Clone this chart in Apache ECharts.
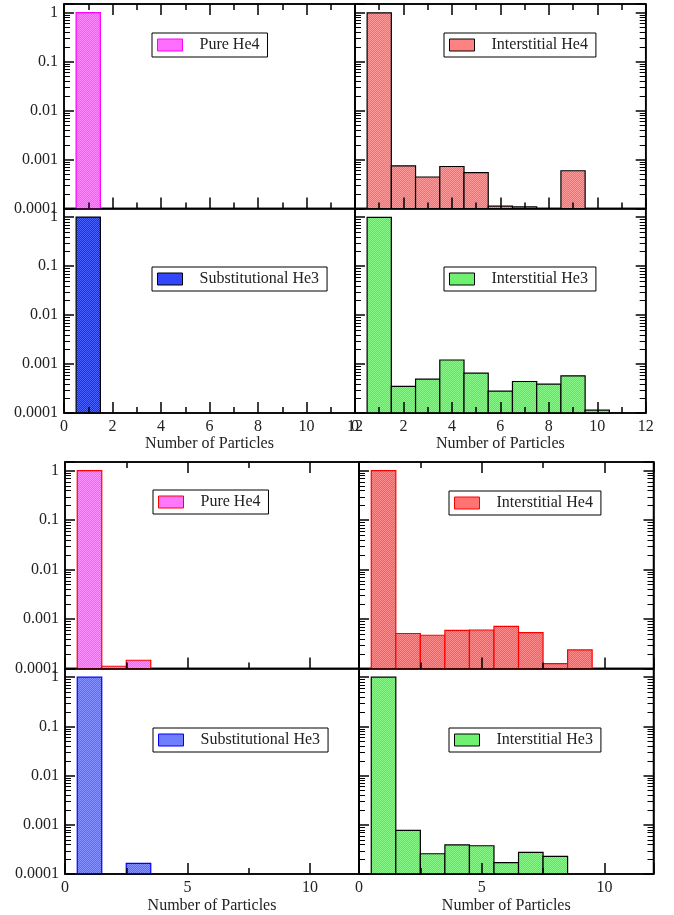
<!DOCTYPE html>
<html>
<head>
<meta charset="utf-8">
<script src="https://cdn.jsdelivr.net/npm/echarts@6/dist/echarts.min.js"></script>
<style>
  html, body { margin: 0; padding: 0; background: #fff; }
  #chart { width: 674px; height: 915px; }
</style>
</head>
<body>
<div id="chart"></div>
<script>
// cluster sizes (bar centres)
var particles = [1, 2, 3, 4, 5, 6, 7, 8, 9, 10, 11];

// upper block of panels
var pureHe4Top = [1.0];
var interHe4Top = [0.99, 7.4e-4, 4.4e-4, 7.2e-4, 5.4e-4, 1.12e-4, 1.08e-4, null, 5.9e-4];
var subHe3Top = [1.0];
var interHe3Top = [0.99, 3.5e-4, 4.9e-4, 1.21e-3, 6.5e-4, 2.8e-4, 4.4e-4, 3.9e-4, 5.75e-4, 1.14e-4];

// lower block of panels
var pureHe4Bot = [1.0, 1.11e-4, 1.47e-4];
var interHe4Bot = [1.0, 5.1e-4, 4.7e-4, 5.9e-4, 6.0e-4, 7.1e-4, 5.3e-4, 1.26e-4, 2.38e-4];
var subHe3Bot = [1.0, null, 1.64e-4];
var interHe3Bot = [1.0, 7.7e-4, 2.58e-4, 3.9e-4, 3.75e-4, 1.7e-4, 2.74e-4, 2.28e-4];

var YMIN = 1e-4, YMAX = 1.5, XMAX = 12;
var FONT = '"Liberation Serif", "DejaVu Serif", serif';
var INK = '#222';

// light stipple like the grace fill patterns
function dither(dark, light) {
  var c = document.createElement('canvas');
  c.width = 2; c.height = 2;
  var g = c.getContext('2d');
  g.fillStyle = dark; g.fillRect(0, 0, 2, 2);
  g.fillStyle = light; g.fillRect(0, 0, 1, 1); g.fillRect(1, 1, 1, 1);
  return { image: c, repeat: 'repeat' };
}

var panels = [
  { name: 'Pure He4', values: pureHe4Top, box: [64, 4, 291, 204.5], step: 2, topRow: true, right: false, xName: false,
    fill: dither('#ff55ff', '#ff88ff'), edge: '#ff00ff', legend: [152, 33] },
  { name: 'Interstitial He4', values: interHe4Top, box: [355, 4, 290.7, 204.5], step: 2, topRow: true, right: true, xName: false,
    fill: dither('#ff6a6a', '#ff9a9a'), edge: '#000', legend: [444, 33] },
  { name: 'Substitutional He3', values: subHe3Top, box: [64, 208.5, 291, 204.5], step: 2, topRow: false, right: false, xName: true,
    fill: dither('#1c2cf6', '#4a62ff'), edge: '#000', legend: [152, 267] },
  { name: 'Interstitial He3', values: interHe3Top, box: [355, 208.5, 290.7, 204.5], step: 2, topRow: false, right: true, xName: true,
    fill: dither('#58e858', '#88f888'), edge: '#000', legend: [444, 267] },
  { name: 'Pure He4', values: pureHe4Bot, box: [65, 462, 294, 206.5], step: 5, topRow: true, right: false, xName: false,
    fill: dither('#ff5cff', '#ff90ff'), edge: '#ff0000', legend: [153, 490] },
  { name: 'Interstitial He4', values: interHe4Bot, box: [359, 462, 294.5, 206.5], step: 5, topRow: true, right: true, xName: false,
    fill: dither('#ff5a5a', '#ff8c8c'), edge: '#ff0000', legend: [449, 491] },
  { name: 'Substitutional He3', values: subHe3Bot, box: [65, 668.5, 294, 207], step: 5, topRow: false, right: false, xName: true,
    fill: dither('#5a6aff', '#8592ff'), edge: '#0000ff', legend: [153, 728] },
  { name: 'Interstitial He3', values: interHe3Bot, box: [359, 668.5, 294.5, 207], step: 5, topRow: false, right: true, xName: true,
    fill: dither('#58e858', '#88f888'), edge: '#000', legend: [449, 728] }
];

// minor log tick values: 2..9 in every decade
var minorVals = [];
for (var d = -4; d < 0; d++) {
  for (var k = 2; k <= 9; k++) minorVals.push(Number((k * Math.pow(10, d)).toPrecision(1)));
}

var line = { color: '#000', width: 1.5 };

function xAxis(gi, pos, p, labels) {
  return {
    type: 'value', gridIndex: gi, position: pos, min: 0, max: XMAX, interval: p.step, z: 5,
    axisLine: { show: true, onZero: false, lineStyle: line },
    axisTick: { show: true, inside: true, length: 11, lineStyle: line },
    minorTick: { show: true, splitNumber: 2, length: 6, lineStyle: line },
    splitLine: { show: false },
    axisLabel: { show: labels, margin: 6, color: INK, fontFamily: FONT, fontSize: 16, showMaxLabel: p.step === 2 },
    name: labels ? 'Number of Particles' : '',
    nameLocation: 'middle', nameGap: p.step === 2 ? 21 : 24,
    nameTextStyle: { color: INK, fontFamily: FONT, fontSize: 16 }
  };
}

function decadeLabel(v) {
  var e = Math.log10(v);
  return Math.abs(e - Math.round(e)) < 1e-6 ? String(Number(v.toPrecision(1))) : '';
}

function logAxis(gi, pos, labels) {
  return {
    type: 'log', logBase: 10, gridIndex: gi, position: pos, min: YMIN, max: YMAX, z: 5,
    axisLine: { show: true, onZero: false, lineStyle: line },
    axisTick: { show: true, inside: true, length: 10, lineStyle: line },
    splitLine: { show: false },
    axisLabel: { show: labels, margin: 6, color: INK, fontFamily: FONT, fontSize: 16, formatter: decadeLabel }
  };
}

var option = { animation: false, backgroundColor: '#fff', grid: [], xAxis: [], yAxis: [], series: [], legend: [] };
var axisRefs = [];

panels.forEach(function (p, i) {
  option.grid.push({
    left: p.box[0], top: p.box[1], width: p.box[2], height: p.box[3],
    show: true, borderColor: '#000', borderWidth: 1.5, backgroundColor: 'transparent'
  });
  var xi = option.xAxis.length;
  option.xAxis.push(xAxis(i, 'bottom', p, p.xName));
  if (p.topRow) option.xAxis.push(xAxis(i, 'top', p, false));
  var yi = option.yAxis.length;
  option.yAxis.push(logAxis(i, 'left', !p.right));
  if (p.right) option.yAxis.push(logAxis(i, 'right', false));
  axisRefs.push({ xAxisIndex: xi, yAxisIndex: yi });

  var data = [];
  p.values.forEach(function (v, j) {
    if (v != null) data.push([particles[j], v]);
  });

  option.series.push({
    type: 'custom', name: p.name, xAxisIndex: xi, yAxisIndex: yi, z: 2,
    data: data,
    renderItem: function (params, api) {
      var x = api.value(0);
      var a = api.coord([x - 0.5, api.value(1)]);
      var b = api.coord([x + 0.5, YMIN]);
      return {
        type: 'rect',
        shape: { x: a[0], y: a[1], width: b[0] - a[0], height: b[1] - a[1] },
        style: { fill: p.fill, stroke: p.edge, lineWidth: 1.2 }
      };
    }
  });

  option.legend.push({
    left: p.legend[0], top: p.legend[1], orient: 'horizontal', selectedMode: false,
    data: [{ name: p.name, icon: 'rect', itemStyle: { color: p.fill, borderColor: p.edge, borderWidth: 1 } }],
    itemWidth: 25, itemHeight: 12, padding: [4, 8, 4, 5],
    borderColor: '#000', borderWidth: 1, backgroundColor: '#fff', borderRadius: 0,
    textStyle: { color: INK, fontFamily: FONT, fontSize: 16, padding: [0, 0, 0, 12] }
  });
});

var chart = echarts.init(document.getElementById('chart'), null, { renderer: 'canvas' });
chart.setOption(option);

// minor log ticks on the y edges, positioned through each panel's scales
var ticks = [];
panels.forEach(function (p, i) {
  var ref = axisRefs[i];
  minorVals.forEach(function (v) {
    var pl = chart.convertToPixel(ref, [0, v]);
    var pr = chart.convertToPixel(ref, [XMAX, v]);
    var y = Math.round(pl[1]) + 0.5;
    ticks.push({ type: 'line', z: 100, silent: true,
      shape: { x1: pl[0], y1: y, x2: pl[0] + 6, y2: y }, style: { stroke: '#000', lineWidth: 1 } });
    if (p.right) {
      ticks.push({ type: 'line', z: 100, silent: true,
        shape: { x1: pr[0] - 6, y1: y, x2: pr[0], y2: y }, style: { stroke: '#000', lineWidth: 1 } });
    }
  });
});
chart.setOption({ graphic: ticks });
</script>
</body>
</html>
